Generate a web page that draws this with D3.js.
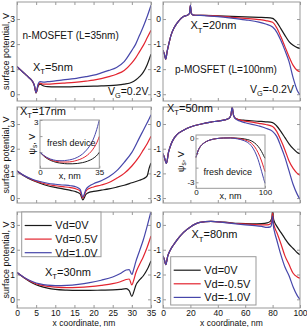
<!DOCTYPE html>
<html>
<head>
<meta charset="utf-8">
<script src="https://cdn.jsdelivr.net/npm/d3@7"></script>
<style>
  body { margin: 0; background: #fff; }
  text { font-family: "Liberation Sans", Arial, sans-serif; fill: #111; }
</style>
</head>
<body>
<svg id="chart" width="307" height="327"></svg>
<script>

// ---- data (x in nm, surface potential in V) ----
var seriesNames = ["Vd=0V", "Vd=0.5V", "Vd=1.0V"];
var seriesNamesP = ["Vd=0V", "Vd=-0.5V", "Vd=-1.0V"];
var leftTicksX = [0, 5, 10, 15, 20, 25, 30, 35];
var rightTicksX = [0, 20, 40, 60, 80, 100];
var leftTicksY = [0, 1, 2, 3];
var rightTicksY = [0, -1, -2, -3];

// n-MOSFET, X_T = 5 nm
var p1X     = [0, 1, 2, 3, 4, 4.5, 5, 5.5, 6, 7, 8, 10, 12, 15, 18, 20, 22, 24, 26, 28, 30, 31, 32, 33, 34, 35];
var p1Black = [1.10, 0.96, 0.82, 0.68, 0.52, 0.36, 0.05, 0.32, 0.40, 0.33, 0.30, 0.29, 0.29, 0.30, 0.31, 0.32, 0.33, 0.34, 0.36, 0.40, 0.48, 0.57, 0.70, 0.88, 1.18, 1.60];
var p1Red   = [1.10, 0.96, 0.82, 0.68, 0.53, 0.37, 0.06, 0.36, 0.44, 0.40, 0.40, 0.42, 0.44, 0.47, 0.52, 0.56, 0.62, 0.70, 0.80, 0.95, 1.25, 1.45, 1.70, 1.95, 2.25, 2.55];
var p1Blue  = [1.10, 0.96, 0.82, 0.68, 0.53, 0.38, 0.07, 0.40, 0.50, 0.48, 0.50, 0.53, 0.57, 0.62, 0.70, 0.76, 0.85, 0.95, 1.07, 1.30, 1.75, 2.00, 2.35, 2.70, 3.10, 3.55];

// p-MOSFET, X_T = 20 nm
var p2X     = [0, 1, 2, 3, 4, 6, 8, 10, 12, 15, 18, 19.3, 20, 20.7, 22, 25, 30, 40, 50, 60, 70, 75, 80, 83, 86, 89, 92, 95, 98, 100];
var p2Black = [-1.25, -1.40, -1.60, -1.30, -1.05, -0.62, -0.36, -0.18, -0.04, 0.10, 0.16, 0.22, 0.55, 0.22, 0.16, 0.15, 0.15, 0.13, 0.11, 0.09, 0.07, 0.06, 0.03, -0.12, -0.38, -0.65, -0.90, -1.05, -1.14, -1.17];
var p2Red   = [-1.25, -1.40, -1.60, -1.30, -1.05, -0.62, -0.36, -0.18, -0.04, 0.10, 0.16, 0.22, 0.55, 0.22, 0.16, 0.15, 0.15, 0.12, 0.07, 0.03, -0.02, -0.06, -0.13, -0.35, -0.70, -1.10, -1.50, -1.85, -2.05, -2.10];
var p2Blue  = [-1.25, -1.40, -1.60, -1.30, -1.05, -0.62, -0.36, -0.18, -0.04, 0.10, 0.16, 0.22, 0.55, 0.22, 0.16, 0.15, 0.14, 0.10, 0.04, -0.03, -0.12, -0.20, -0.32, -0.52, -0.85, -1.25, -1.70, -2.35, -2.85, -3.02];

// n-MOSFET, X_T = 17 nm
var p3X     = [0, 2, 4, 6, 8, 10, 12, 14, 15.5, 16.5, 17.2, 18, 19, 20, 22, 24, 26, 28, 30, 32, 33, 34, 34.5, 35];
var p3Black = [1.10, 0.88, 0.72, 0.60, 0.50, 0.43, 0.37, 0.31, 0.25, 0.17, -0.07, 0.15, 0.24, 0.27, 0.32, 0.37, 0.44, 0.52, 0.62, 0.72, 0.78, 0.90, 1.20, 1.42];
var p3Red   = [1.10, 0.89, 0.74, 0.63, 0.55, 0.50, 0.46, 0.42, 0.37, 0.28, 0.00, 0.28, 0.40, 0.45, 0.53, 0.63, 0.80, 1.00, 1.30, 1.70, 1.95, 2.20, 2.35, 2.50];
var p3Blue  = [1.10, 0.90, 0.76, 0.67, 0.60, 0.56, 0.53, 0.50, 0.45, 0.35, 0.05, 0.35, 0.50, 0.58, 0.70, 0.86, 1.10, 1.45, 1.85, 2.45, 2.75, 3.05, 3.20, 3.38];

// inset: fresh n-device
var i3X     = [0, 2, 4, 6, 8, 10, 13, 16, 19, 22, 25, 28, 30, 32, 34, 35];
var i3Black = [1.00, 0.78, 0.62, 0.50, 0.42, 0.36, 0.31, 0.28, 0.28, 0.30, 0.35, 0.44, 0.53, 0.66, 0.85, 1.00];
var i3Red   = [1.00, 0.80, 0.65, 0.54, 0.47, 0.42, 0.39, 0.39, 0.42, 0.50, 0.62, 0.82, 1.02, 1.30, 1.70, 1.98];
var i3Blue  = [1.00, 0.82, 0.68, 0.58, 0.52, 0.48, 0.47, 0.50, 0.56, 0.68, 0.88, 1.20, 1.50, 1.95, 2.60, 3.00];

// p-MOSFET, X_T = 50 nm
var p4X     = [0, 1, 2.5, 4, 6, 8, 10, 15, 20, 28, 35, 40, 45, 48, 49.5, 50.5, 51.5, 53, 56, 60, 70, 75, 80, 83, 86, 89, 92, 95, 98, 100];
var p4Black = [-1.20, -1.35, -1.60, -1.15, -0.80, -0.58, -0.44, -0.25, -0.12, 0.00, 0.08, 0.12, 0.17, 0.22, 0.35, 0.68, 0.35, 0.22, 0.17, 0.15, 0.11, 0.09, 0.06, -0.08, -0.30, -0.55, -0.80, -1.00, -1.15, -1.20];
var p4Red   = [-1.20, -1.35, -1.60, -1.15, -0.80, -0.58, -0.44, -0.25, -0.12, 0.00, 0.08, 0.12, 0.17, 0.22, 0.35, 0.68, 0.35, 0.22, 0.16, 0.12, 0.03, -0.02, -0.10, -0.30, -0.65, -1.05, -1.50, -1.80, -2.00, -2.08];
var p4Blue  = [-1.20, -1.35, -1.60, -1.15, -0.80, -0.58, -0.44, -0.25, -0.12, 0.00, 0.08, 0.12, 0.17, 0.22, 0.35, 0.68, 0.35, 0.21, 0.12, 0.05, -0.08, -0.17, -0.30, -0.50, -0.90, -1.35, -1.90, -2.45, -2.85, -3.05];

// inset: fresh p-device
var i4X     = [0, 3, 6, 10, 15, 20, 30, 40, 50, 60, 70, 75, 80, 85, 90, 95, 98, 100];
var i4Black = [-1.30, -0.85, -0.58, -0.38, -0.22, -0.12, -0.02, 0.02, 0.03, 0.01, -0.04, -0.09, -0.17, -0.32, -0.55, -0.90, -1.18, -1.36];
var i4Red   = [-1.30, -0.85, -0.58, -0.38, -0.22, -0.12, -0.02, 0.02, 0.03, -0.01, -0.10, -0.18, -0.32, -0.58, -0.98, -1.55, -1.98, -2.27];
var i4Blue  = [-1.30, -0.85, -0.58, -0.38, -0.22, -0.12, -0.02, 0.02, 0.02, -0.04, -0.17, -0.29, -0.50, -0.88, -1.45, -2.25, -2.75, -3.07];

// n-MOSFET, X_T = 30 nm
var p5X     = [0, 2, 4, 6, 8, 10, 13, 16, 19, 22, 25, 27, 28.5, 29.3, 30, 30.5, 31, 32, 33, 34, 35];
var p5Black = [1.08, 0.85, 0.66, 0.53, 0.45, 0.40, 0.37, 0.36, 0.36, 0.37, 0.38, 0.40, 0.43, 0.35, 0.12, 0.30, 0.55, 0.78, 0.95, 1.20, 1.55];
var p5Red   = [1.08, 0.86, 0.69, 0.58, 0.52, 0.49, 0.47, 0.48, 0.51, 0.56, 0.63, 0.71, 0.80, 0.82, 0.58, 0.78, 1.05, 1.40, 1.72, 2.10, 2.55];
var p5Blue  = [1.08, 0.87, 0.72, 0.62, 0.57, 0.55, 0.56, 0.60, 0.67, 0.77, 0.90, 1.04, 1.18, 1.20, 1.00, 1.22, 1.50, 1.95, 2.40, 2.95, 3.55];

// p-MOSFET, X_T = 80 nm
var p6X     = [0, 1, 2, 3.5, 5, 7.5, 10, 15, 20, 27, 35, 45, 55, 65, 72, 76, 78.5, 79.5, 80, 80.5, 81.5, 83, 86, 89, 92, 95, 98, 100];
var p6Black = [-1.25, -1.40, -1.60, -1.25, -1.05, -0.82, -0.62, -0.30, -0.08, 0.10, 0.14, 0.11, 0.06, 0.04, 0.05, 0.08, 0.15, 0.30, 0.62, 0.30, 0.10, -0.05, -0.30, -0.55, -0.78, -0.95, -1.12, -1.20];
var p6Red   = [-1.25, -1.40, -1.60, -1.25, -1.05, -0.82, -0.62, -0.30, -0.08, 0.10, 0.14, 0.10, 0.05, 0.02, 0.00, 0.00, 0.05, 0.20, 0.48, 0.15, -0.10, -0.30, -0.75, -1.25, -1.60, -1.95, -2.10, -2.15];
var p6Blue  = [-1.25, -1.40, -1.60, -1.25, -1.05, -0.82, -0.62, -0.30, -0.08, 0.10, 0.14, 0.09, 0.03, -0.02, -0.06, -0.10, -0.08, 0.10, 0.35, 0.00, -0.30, -0.60, -1.20, -1.70, -2.05, -2.50, -2.85, -3.00];

var colors = ["#1a1a1a", "#e3242f", "#4646aa"];
var frameColor = "#999";

var svg = d3.select("#chart");

// panel frames in pixels
var cols = [[17, 151], [163, 300]];
var rows = [
    {top: 2,   bottom: 101, lo: -0.27, hi: 3.68},
    {top: 107, bottom: 203, lo: -0.20, hi: 3.69},
    {top: 212, bottom: 308, lo: -0.35, hi: 3.52}
];

var fmt = function (d) { return String(d); };
var panelId = 0;

var drawPanel = function (o) {
    var r = rows[o.row], c = cols[o.col];
    var shift = o.col === 1 ? -3 : 0;
    var x = d3.scaleLinear().domain([0, o.xMax]).range(c);
    var y = d3.scaleLinear().domain([r.lo + shift, r.hi + shift]).range([r.bottom, r.top]);
    var g = svg.append("g");
    var id = "clip" + (panelId++);

    g.append("clipPath").attr("id", id).append("rect")
        .attr("x", c[0]).attr("y", r.top)
        .attr("width", c[1] - c[0]).attr("height", r.bottom - r.top);

    g.append("rect")
        .attr("x", c[0]).attr("y", r.top)
        .attr("width", c[1] - c[0]).attr("height", r.bottom - r.top)
        .attr("fill", "#fff");

    var axes = [
        [d3.axisBottom(x).tickValues(o.xTicks).tickFormat(o.xLabels ? fmt : ""), "translate(0," + r.bottom + ")"],
        [d3.axisTop(x).tickValues(o.xTicks).tickFormat(""), "translate(0," + r.top + ")"],
        [d3.axisLeft(y).tickValues(o.yTicks).tickFormat(fmt), "translate(" + c[0] + ",0)"],
        [d3.axisRight(y).tickValues(o.yTicks).tickFormat(""), "translate(" + c[1] + ",0)"]
    ];
    axes.forEach(function (a) {
        var ax = g.append("g").attr("transform", a[1])
            .call(a[0].tickSizeInner(-3).tickSizeOuter(0).tickPadding(2));
        ax.select(".domain").remove();
        ax.selectAll("line").attr("stroke", frameColor);
        ax.selectAll("text").attr("font-size", 8.5).attr("fill", "#111")
            .attr("font-family", "Liberation Sans, Arial, sans-serif");
    });

    var line = d3.line()
        .x(function (d) { return x(d[0]); })
        .y(function (d) { return y(d[1]); })
        .curve(d3.curveMonotoneX);

    o.series.forEach(function (s, i) {
        g.append("path")
            .datum(d3.zip(o.xs, s))
            .attr("clip-path", "url(#" + id + ")")
            .attr("d", line)
            .attr("fill", "none")
            .attr("stroke", colors[i])
            .attr("stroke-width", 1.2);
    });

    g.append("rect")
        .attr("x", c[0]).attr("y", r.top)
        .attr("width", c[1] - c[0]).attr("height", r.bottom - r.top)
        .attr("fill", "none").attr("stroke", frameColor).attr("stroke-width", 1);

    if (o.col === 0) {
        g.append("text")
            .attr("transform", "translate(6," + ((r.top + r.bottom) / 2) + ") rotate(-90)")
            .attr("text-anchor", "middle").attr("dy", "0.35em")
            .attr("font-size", 9)
            .text("surface potential, V");
    }
    if (o.xLabels) {
        g.append("text")
            .attr("x", (c[0] + c[1]) / 2).attr("y", 326)
            .attr("text-anchor", "middle").attr("font-size", 8.5)
            .text("x coordinate, nm");
    }
    return g;
};

var drawInset = function (o) {
    var x = d3.scaleLinear().domain([0, o.xMax]).range([o.x0, o.x1]);
    var y = d3.scaleLinear().domain(o.yDomain).range([o.y1, o.y0]);
    var g = svg.append("g");
    g.append("rect").attr("x", o.x0).attr("y", o.y0)
        .attr("width", o.x1 - o.x0).attr("height", o.y1 - o.y0).attr("fill", "#fff");

    var axes = [
        [d3.axisBottom(x).tickValues(o.xTicks).tickFormat(function (d) { return o.xLabelTicks.indexOf(d) >= 0 ? d : ""; }), "translate(0," + o.y1 + ")", 0],
        [d3.axisLeft(y).tickValues(o.yTicks).tickFormat(function (d) { return o.yLabelTicks.indexOf(d) >= 0 ? fmt(d) : ""; }), "translate(" + o.x0 + ",0)", o.yLabelShift]
    ];
    axes.forEach(function (a) {
        var ax = g.append("g").attr("transform", a[1])
            .call(a[0].tickSizeInner(-2.5).tickSizeOuter(0).tickPadding(1.5));
        ax.select(".domain").remove();
        ax.selectAll("line").attr("stroke", frameColor);
        ax.selectAll("text").attr("font-size", 8).attr("fill", "#111")
            .attr("font-family", "Liberation Sans, Arial, sans-serif");
        if (a[2]) ax.selectAll("text").attr("y", a[2]);
    });

    var line = d3.line()
        .x(function (d) { return x(d[0]); })
        .y(function (d) { return y(d[1]); })
        .curve(d3.curveMonotoneX);
    o.series.forEach(function (s, i) {
        g.append("path").datum(d3.zip(o.xs, s))
            .attr("d", line).attr("fill", "none")
            .attr("stroke", colors[i]).attr("stroke-width", 1);
    });
    g.append("rect").attr("x", o.x0).attr("y", o.y0)
        .attr("width", o.x1 - o.x0).attr("height", o.y1 - o.y0)
        .attr("fill", "none").attr("stroke", frameColor);

    g.append("text").attr("x", (o.x0 + o.x1) / 2).attr("y", o.y1 + 10.5)
        .attr("text-anchor", "middle").attr("font-size", 9).text("x, nm");
    var yl = g.append("text")
        .attr("transform", "translate(" + o.yLabelX + "," + ((o.y0 + o.y1) / 2) + ") rotate(-90)")
        .attr("text-anchor", "middle").attr("font-size", 9);
    yl.append("tspan").text("\u03c8");
    yl.append("tspan").attr("dy", 2).attr("font-size", 6.5).text("s");
    yl.append("tspan").attr("dy", -2).text(", V");
    g.append("text").attr("x", o.labelX).attr("y", o.labelY)
        .attr("font-size", 9).text("fresh device");
};

var subText = function (x, y, size, main, sub, rest) {
    var t = svg.append("text").attr("x", x).attr("y", y).attr("font-size", size);
    t.append("tspan").text(main);
    t.append("tspan").attr("dy", size * 0.3).attr("font-size", size * 0.7).text(sub);
    t.append("tspan").attr("dy", -size * 0.3).text(rest);
};

var drawLegend = function (x0, y0, w, h, names) {
    var g = svg.append("g");
    g.append("rect").attr("x", x0).attr("y", y0).attr("width", w).attr("height", h)
        .attr("fill", "#fff").attr("stroke", frameColor);
    names.forEach(function (n, i) {
        var yy = y0 + 13.5 + i * 13.6;
        g.append("line").attr("x1", x0 + 3).attr("x2", x0 + 30)
            .attr("y1", yy).attr("y2", yy)
            .attr("stroke", colors[i]).attr("stroke-width", 1.2);
        g.append("text").attr("x", x0 + 33.5).attr("y", yy).attr("dy", "0.36em")
            .attr("font-size", 11).text(n);
    });
};

drawPanel({row: 0, col: 0, xMax: 35, xTicks: leftTicksX, yTicks: leftTicksY, xLabels: false,
           xs: p1X, series: [p1Black, p1Red, p1Blue]});
drawPanel({row: 0, col: 1, xMax: 100, xTicks: rightTicksX, yTicks: rightTicksY, xLabels: false,
           xs: p2X, series: [p2Black, p2Red, p2Blue]});
drawPanel({row: 1, col: 0, xMax: 35, xTicks: leftTicksX, yTicks: leftTicksY, xLabels: false,
           xs: p3X, series: [p3Black, p3Red, p3Blue]});
drawPanel({row: 1, col: 1, xMax: 100, xTicks: rightTicksX, yTicks: rightTicksY, xLabels: false,
           xs: p4X, series: [p4Black, p4Red, p4Blue]});
drawPanel({row: 2, col: 0, xMax: 35, xTicks: leftTicksX, yTicks: leftTicksY, xLabels: true,
           xs: p5X, series: [p5Black, p5Red, p5Blue]});
drawPanel({row: 2, col: 1, xMax: 100, xTicks: rightTicksX, yTicks: rightTicksY, xLabels: true,
           xs: p6X, series: [p6Black, p6Red, p6Blue]});

drawInset({x0: 40, x1: 99.3, y0: 120, y1: 168.3, xMax: 35, yDomain: [0, 3],
           xTicks: [0, 35], xLabelTicks: [0, 35], yTicks: [1, 2, 3], yLabelTicks: [3], yLabelShift: 1.8,
           yLabelX: 35, labelX: 47, labelY: 145.5,
           xs: i3X, series: [i3Black, i3Red, i3Blue]});
drawInset({x0: 196, x1: 265, y0: 135, y1: 188.3, xMax: 100, yDomain: [-3.41, 0.225],
           xTicks: [0, 100], xLabelTicks: [0, 100], yTicks: [0, -1, -2, -3], yLabelTicks: [0, -3], yLabelShift: 0,
           yLabelX: 184, labelX: 203.5, labelY: 175,
           xs: i4X, series: [i4Black, i4Red, i4Blue]});

// annotations
svg.append("text").attr("x", 22.5).attr("y", 39.3).attr("font-size", 10).text("n-MOSFET (L=35nm)");
subText(33, 71, 11, "X", "T", "=5nm");
subText(108, 95, 10.5, "V", "G", "=0.2V");
subText(190.5, 29.3, 11, "X", "T", "=20nm");
svg.append("text").attr("x", 175).attr("y", 72.7).attr("font-size", 10).text("p-MOSFET (L=100nm)");
subText(250, 92.7, 10.5, "V", "G", "=-0.2V");
subText(20, 114.8, 11, "X", "T", "=17nm");
subText(167, 111.7, 11, "X", "T", "=50nm");
subText(45, 276, 11, "X", "T", "=30nm");
subText(191.5, 238.3, 11, "X", "T", "=80nm");

drawLegend(21.7, 212, 79.3, 44.7, seriesNames);
drawLegend(170.7, 256.7, 85.3, 48.3, seriesNamesP);

</script>
</body>
</html>
